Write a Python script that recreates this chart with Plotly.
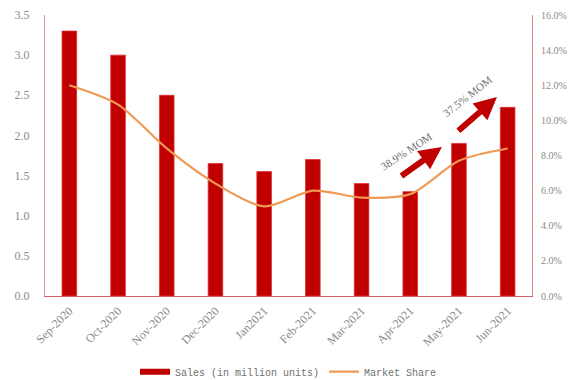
import plotly.graph_objects as go

# Monthly sales and market share
months = ["Sep-2020", "Oct-2020", "Nov-2020", "Dec-2020", "Jan2021",
          "Feb-2021", "Mar-2021", "Apr-2021", "May-2021", "Jun-2021"]
sales = [3.30, 3.00, 2.50, 1.65, 1.55, 1.70, 1.40, 1.30, 1.90, 2.35]
share = [0.120, 0.109, 0.084, 0.064, 0.051, 0.060, 0.056, 0.058, 0.077, 0.084]

left_ticks = [0, 0.5, 1.0, 1.5, 2.0, 2.5, 3.0, 3.5]
left_text = ["0.0", "0.5", "1.0", "1.5", "2.0", "2.5", "3.0", "3.5"]
right_ticks = [0, 0.02, 0.04, 0.06, 0.08, 0.10, 0.12, 0.14, 0.16]
right_text = ["0.0%", "2.0%", "4.0%", "6.0%", "8.0%", "10.0%", "12.0%", "14.0%", "16.0%"]

mom_labels = ["38.9% MOM", "37.5% MOM"]

BAR = "#C00000"
LINE = "#EE9A55"
GREY = "#8a8a8a"
FONT = "Liberation Serif"

fig = go.Figure()
fig.add_trace(go.Bar(
    x=months, y=sales, name="Sales (in million units)", showlegend=False,
    marker=dict(color=BAR, line=dict(color="#E03030", width=0.8)),
    width=0.3,
))
fig.add_trace(go.Scatter(
    x=months, y=share, name="Market Share", yaxis="y2", showlegend=False,
    mode="lines", line=dict(color=LINE, width=2.2, shape="spline", smoothing=0.8),
))
# legend keys: a wide bar swatch and a line swatch
fig.add_trace(go.Scatter(
    x=[None], y=[None], name="Sales (in million units)", mode="lines",
    line=dict(color=BAR, width=6),
))
fig.add_trace(go.Scatter(
    x=[None], y=[None], name="Market Share", mode="lines",
    line=dict(color=LINE, width=2.2),
))

# MOM growth arrows and labels
arrows = [
    dict(x=0.815, y=0.530, ax=-42, ay=30),
    dict(x=0.928, y=0.708, ax=-40, ay=35),
]
for a in arrows:
    fig.add_annotation(
        xref="paper", yref="paper", x=a["x"], y=a["y"], ax=a["ax"], ay=a["ay"],
        text="", showarrow=True, arrowhead=2, arrowsize=0.75, arrowwidth=6,
        arrowcolor=BAR,
    )
fig.add_annotation(xref="paper", yref="paper", x=0.743, y=0.515, text=mom_labels[0],
                   xanchor="center", yanchor="middle",
                   showarrow=False, textangle=-33,
                   font=dict(family=FONT, size=11, color="#707070"))
fig.add_annotation(xref="paper", yref="paper", x=0.868, y=0.712, text=mom_labels[1],
                   xanchor="center", yanchor="middle",
                   showarrow=False, textangle=-38,
                   font=dict(family=FONT, size=11, color="#707070"))

fig.update_layout(
    width=574, height=380,
    margin=dict(l=45, r=42, t=15, b=84, autoexpand=False),
    paper_bgcolor="white", plot_bgcolor="white",
    font=dict(family=FONT, size=11, color=GREY),
    showlegend=True,
    legend=dict(orientation="h", x=0.5, xanchor="center",
                yref="container", y=0.022, yanchor="middle",
                font=dict(family="Liberation Mono", size=10, color="#707070"),
                itemwidth=30, tracegroupgap=0),
    bargap=0.5,
    xaxis=dict(
        tickangle=-45, showline=True, linecolor="#D06060", linewidth=1,
        ticks="", showgrid=False, tickfont=dict(size=12, color=GREY),
        ticklabelstandoff=2, automargin=False,
    ),
    yaxis=dict(
        range=[0, 3.5], tickvals=left_ticks, ticktext=left_text,
        showgrid=False, zeroline=False, showline=True, linecolor="#C8A0A0",
        linewidth=1, ticks="", tickfont=dict(size=12, color=GREY),
        ticklabelstandoff=12, automargin=False,
    ),
    yaxis2=dict(
        range=[0, 0.16], tickvals=right_ticks, ticktext=right_text,
        overlaying="y", side="right", showgrid=False, zeroline=False,
        showline=True, linecolor="#E08A8A", linewidth=1, ticks="",
        tickfont=dict(size=10, color=GREY), ticklabelstandoff=6,
        automargin=False,
    ),
)

fig.write_html("out.html")
